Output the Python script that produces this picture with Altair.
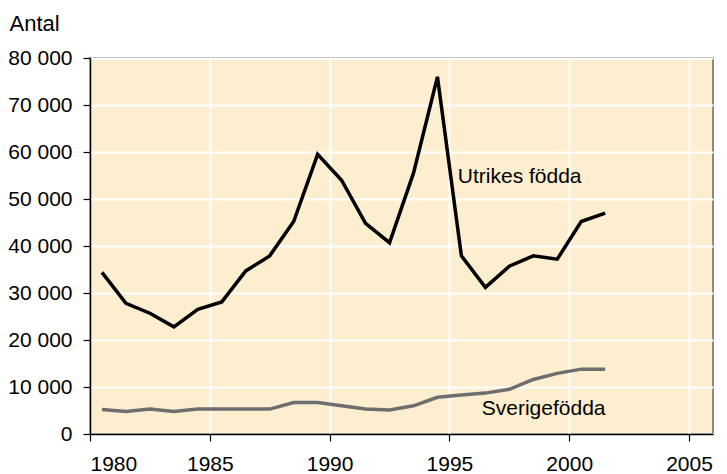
import altair as alt
import pandas as pd

years = list(range(1980, 2002))
utrikes = [34400, 27800, 25700, 22800, 26500, 28100, 34700, 37900, 45200, 59500,
           54000, 44800, 40700, 55500, 76000, 37900, 31200, 35700, 37900, 37200,
           45200, 47000]
sverige = [5200, 4800, 5300, 4800, 5300, 5300, 5300, 5300, 6700, 6700,
           6000, 5300, 5100, 6000, 7800, 8300, 8700, 9500, 11600, 12900,
           13800, 13800]

label_text = ["Utrikes födda", "Sverigefödda"]
label_x = [1995.35, 1996.35]
label_y = [54700, 5300]

FONT = "Liberation Sans"
BG = "#FCEECF"
FS = 21

df = pd.DataFrame({"year": years, "Utrikes": utrikes, "Sverige": sverige})
long = df.melt("year", var_name="grupp", value_name="antal")
labels = pd.DataFrame({"text": label_text, "x": label_x, "y": label_y})

xscale = alt.Scale(domain=[1980, 2006], nice=False, zero=False)
yscale = alt.Scale(domain=[0, 80000], nice=False)

xaxis = alt.Axis(values=[1980, 1985, 1990, 1995, 2000, 2005], format="d",
                 grid=True, gridColor="white", gridWidth=2,
                 domainColor="black", domainWidth=1.5,
                 tickColor="black", tickSize=7, tickWidth=1.2,
                 labelFont=FONT, labelFontSize=FS, labelColor="black",
                 labelPadding=12, title=None)
yaxis = alt.Axis(values=list(range(0, 80001, 10000)),
                 labelExpr="replace(format(datum.value, ','), ',', ' ')",
                 grid=True, gridColor="white", gridWidth=2,
                 domainColor="black", domainWidth=1.5,
                 tickColor="black", tickSize=7, tickWidth=1.2,
                 labelFont=FONT, labelFontSize=FS, labelColor="black",
                 labelPadding=11,
                 title="Antal", titleAngle=0, titleAlign="left",
                 titleBaseline="alphabetic", titleX=-81, titleY=-28,
                 titleFont=FONT, titleFontSize=22, titleFontWeight="normal",
                 titleColor="black")

base = alt.Chart(long).transform_calculate(xm="datum.year + 0.5")

lines = base.mark_line(strokeWidth=3.5, strokeJoin="miter").encode(
    x=alt.X("xm:Q", scale=xscale, axis=xaxis),
    y=alt.Y("antal:Q", scale=yscale, axis=yaxis),
    color=alt.Color("grupp:N",
                    scale=alt.Scale(domain=["Utrikes", "Sverige"],
                                    range=["#000000", "#6e6e6e"]),
                    legend=None),
)

text = alt.Chart(labels).mark_text(font=FONT, fontSize=FS, align="left",
                                   baseline="middle", color="black").encode(
    x=alt.X("x:Q", scale=xscale),
    y=alt.Y("y:Q", scale=yscale),
    text="text:N",
)

chart = alt.layer(lines, text).properties(
    width=623, height=376,
    autosize=alt.AutoSizeParams(type="none"),
    padding={"left": 82, "top": 50, "right": 6, "bottom": 40},
).configure_view(fill=BG, stroke="#8a8a8a", strokeWidth=2)

chart.save("out.html", embed_options={"renderer": "svg", "actions": False})
